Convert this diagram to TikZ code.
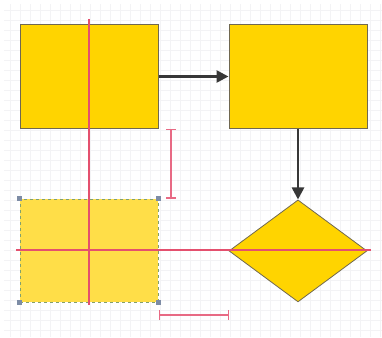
\documentclass[tikz,border=0pt]{standalone}
\usepackage{tikz}
\usetikzlibrary{arrows.meta, positioning, shapes.geometric}
\usepackage{xcolor}
\definecolor{fcgold}{RGB}{255,212,0}
\definecolor{fcpale}{RGB}{255,222,72}
\definecolor{fcedge}{RGB}{112,104,80}
\definecolor{fcsel}{RGB}{130,160,110}
\definecolor{fcguide}{RGB}{228,80,110}
\definecolor{fcdark}{RGB}{55,55,55}
\definecolor{fchandle}{RGB}{125,140,165}
\definecolor{fcgrid}{RGB}{243,243,245}
\tikzset{
    shape box/.style={rectangle, draw=fcedge, line width=1pt, fill=fcgold,
                      minimum width=138pt, minimum height=103pt, inner sep=0pt},
    selbox/.style={shape box, draw=fcsel, dashed, fill=fcpale},
    decision/.style={diamond, draw=fcedge, line width=0.8pt, fill=fcgold,
                     minimum width=138pt, minimum height=102pt, inner sep=0pt},
    flow/.style={-{Triangle[length=12pt, width=12pt]}, line width=2.6pt, fcdark},
    guide/.style={line width=1.2pt, fcguide},
    vguide/.style={guide, line width=1.8pt},
    gap/.style={{Bar[width=10pt]}-{Bar[width=10pt]}, line width=1.1pt, fcguide!85},
    handle/.style={rectangle, fill=fchandle, minimum size=5pt, inner sep=0pt},
    gridline/.style={fcgrid, line width=0.6pt},
}

\begin{document}
\begin{tikzpicture}[x=1pt, y=-1pt]
    \useasboundingbox (0,0) rectangle (382,337);
    \draw[gridline, step=10pt] (4,4) grid (382,337);
    % shapes
    \node[shape box] (start) at (89,76.5) {};
    \node[shape box, right=70pt of start] (proc) {};
    \node[selbox, below=70pt of start] (moved) {};
    \node[decision, below=71pt of proc] (check) {};
    % flow
    \draw[flow] (start) -- (proc);
    \draw[flow] (proc) -- (check);
    % alignment guides
    \coordinate (vtop) at (89,19);
    \coordinate (vbot) at (89,305);
    \coordinate (hleft) at (16,250);
    \coordinate (hright) at (371,250);
    \draw[vguide] (vtop) -- (vbot);
    \draw[guide] (hleft) -- (hright);
    \coordinate (dv) at (171,0);
    \draw[gap, line width=1.6pt] (start.south -| dv) -- (moved.north -| dv);
    \coordinate (dh) at (0,315);
    \draw[gap] (moved.south east |- dh) -- (check.west |- dh);
    % selection handles
    \foreach \c in {north west, north east, south west, south east}
        \node[handle] at (moved.\c) {};
\end{tikzpicture}
\end{document}
